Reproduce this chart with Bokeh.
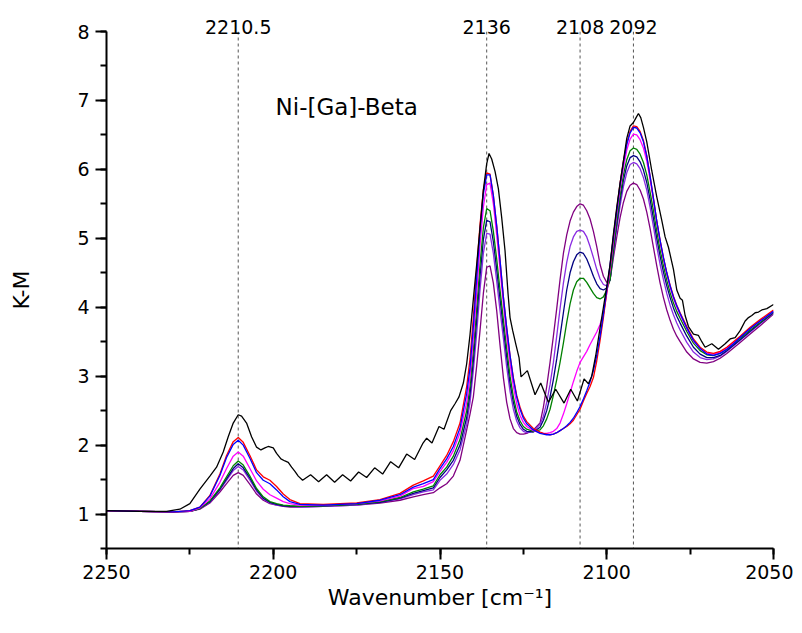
from bokeh.plotting import figure
from bokeh.models import (Range1d, SingleIntervalTicker, Span, Label, ColumnDataSource,
                          LinearAxis, FixedTicker)
from bokeh.embed import file_html
from bokeh.resources import INLINE

# Wavenumber grid for the coloured spectra
wn = [2250, 2240, 2230, 2225, 2222, 2219, 2216, 2214, 2212, 2210.5,
      2209, 2207, 2205, 2203, 2201, 2199, 2197, 2195, 2192, 2185,
      2175, 2168, 2162, 2158, 2155, 2152, 2150, 2148, 2146, 2144,
      2142, 2141, 2140, 2139, 2138, 2137, 2136, 2135, 2134, 2133,
      2132, 2131, 2130, 2129, 2128, 2127, 2126, 2125, 2124, 2122,
      2120, 2119, 2118, 2117, 2116, 2115, 2114, 2113, 2112, 2111,
      2110, 2109, 2108, 2107, 2106, 2105, 2104, 2103, 2102, 2101,
      2100, 2099, 2098, 2097, 2096, 2095, 2094, 2093, 2092, 2091,
      2090, 2089, 2088, 2087, 2086, 2085, 2084, 2083, 2082, 2081,
      2080, 2079, 2078, 2076, 2074, 2072, 2070, 2068, 2066, 2064,
      2062, 2060, 2057, 2054, 2050]

red = [1.05, 1.04, 1.03, 1.05, 1.10, 1.27, 1.58, 1.85, 2.05, 2.11,
       2.04, 1.85, 1.64, 1.54, 1.49, 1.40, 1.29, 1.21, 1.15, 1.14,
       1.16, 1.21, 1.30, 1.42, 1.48, 1.55, 1.70, 1.85, 2.05, 2.32,
       2.85, 3.25, 3.85, 4.55, 5.20, 5.70, 5.95, 5.93, 5.62, 5.18,
       4.68, 4.15, 3.70, 3.30, 2.98, 2.72, 2.55, 2.42, 2.34, 2.24,
       2.19, 2.17, 2.16, 2.15, 2.16, 2.18, 2.21, 2.24, 2.27, 2.31,
       2.36, 2.44, 2.52, 2.64, 2.75, 2.85, 2.98, 3.22, 3.52, 3.85,
       4.22, 4.60, 5.02, 5.42, 5.80, 6.12, 6.38, 6.55, 6.63, 6.62,
       6.55, 6.42, 6.20, 5.90, 5.58, 5.25, 4.97, 4.72, 4.50, 4.32,
       4.16, 4.03, 3.92, 3.72, 3.54, 3.42, 3.35, 3.33, 3.36, 3.42,
       3.50, 3.58, 3.71, 3.82, 3.96]

blue = [1.05, 1.04, 1.03, 1.05, 1.10, 1.26, 1.56, 1.82, 2.01, 2.07,
        2.00, 1.81, 1.60, 1.49, 1.44, 1.35, 1.25, 1.18, 1.14, 1.13,
        1.15, 1.20, 1.28, 1.39, 1.44, 1.50, 1.66, 1.80, 1.98, 2.25,
        2.75, 3.12, 3.72, 4.42, 5.10, 5.64, 5.92, 5.92, 5.62, 5.18,
        4.68, 4.15, 3.70, 3.30, 2.96, 2.70, 2.52, 2.39, 2.31, 2.22,
        2.17, 2.16, 2.15, 2.15, 2.16, 2.18, 2.21, 2.24, 2.28, 2.33,
        2.39, 2.47, 2.56, 2.67, 2.79, 2.92, 3.08, 3.30, 3.58, 3.90,
        4.25, 4.62, 5.02, 5.40, 5.78, 6.10, 6.36, 6.53, 6.61, 6.60,
        6.53, 6.40, 6.19, 5.90, 5.58, 5.25, 4.97, 4.72, 4.50, 4.31,
        4.15, 4.02, 3.91, 3.70, 3.52, 3.40, 3.32, 3.30, 3.33, 3.39,
        3.47, 3.56, 3.69, 3.80, 3.94]

magenta = [1.05, 1.04, 1.03, 1.04, 1.09, 1.22, 1.46, 1.66, 1.84, 1.90,
           1.84, 1.66, 1.48, 1.36, 1.28, 1.23, 1.18, 1.15, 1.13, 1.13,
           1.15, 1.19, 1.26, 1.37, 1.40, 1.47, 1.62, 1.75, 1.92, 2.18,
           2.62, 2.98, 3.55, 4.20, 4.90, 5.45, 5.78, 5.80, 5.50, 5.05,
           4.55, 4.05, 3.58, 3.18, 2.85, 2.60, 2.43, 2.33, 2.27, 2.21,
           2.18, 2.17, 2.17, 2.18, 2.20, 2.24, 2.32, 2.45, 2.60, 2.76,
           2.92, 3.07, 3.20, 3.28, 3.36, 3.46, 3.55, 3.64, 3.75, 3.90,
           4.20, 4.55, 4.95, 5.35, 5.72, 6.02, 6.28, 6.44, 6.51, 6.50,
           6.43, 6.31, 6.12, 5.85, 5.55, 5.23, 4.95, 4.70, 4.48, 4.29,
           4.13, 4.00, 3.89, 3.69, 3.51, 3.40, 3.33, 3.32, 3.35, 3.41,
           3.49, 3.57, 3.69, 3.80, 3.94]

green = [1.05, 1.04, 1.03, 1.04, 1.08, 1.19, 1.38, 1.54, 1.70, 1.77,
         1.71, 1.55, 1.37, 1.25, 1.18, 1.15, 1.13, 1.12, 1.11, 1.12,
         1.14, 1.18, 1.24, 1.32, 1.36, 1.41, 1.57, 1.68, 1.84, 2.08,
         2.50, 2.85, 3.38, 3.98, 4.62, 5.15, 5.43, 5.40, 5.10, 4.70,
         4.25, 3.82, 3.40, 3.00, 2.70, 2.48, 2.35, 2.27, 2.23, 2.20,
         2.22, 2.28, 2.38, 2.52, 2.72, 2.95, 3.20, 3.48, 3.78, 4.05,
         4.25, 4.37, 4.42, 4.42, 4.36, 4.28, 4.20, 4.14, 4.12, 4.15,
         4.25, 4.40, 4.85, 5.25, 5.62, 5.92, 6.14, 6.27, 6.31, 6.29,
         6.22, 6.10, 5.92, 5.67, 5.40, 5.10, 4.83, 4.60, 4.39, 4.21,
         4.06, 3.94, 3.84, 3.65, 3.48, 3.37, 3.31, 3.30, 3.33, 3.39,
         3.47, 3.55, 3.67, 3.78, 3.93]

navy = [1.05, 1.04, 1.03, 1.04, 1.08, 1.18, 1.36, 1.51, 1.66, 1.73,
        1.67, 1.52, 1.35, 1.23, 1.17, 1.14, 1.12, 1.11, 1.11, 1.12,
        1.14, 1.17, 1.23, 1.30, 1.34, 1.38, 1.53, 1.64, 1.78, 2.00,
        2.40, 2.74, 3.22, 3.82, 4.45, 4.98, 5.26, 5.24, 4.95, 4.55,
        4.12, 3.70, 3.28, 2.90, 2.62, 2.42, 2.30, 2.23, 2.20, 2.19,
        2.26, 2.36, 2.50, 2.70, 2.95, 3.25, 3.58, 3.92, 4.25, 4.50,
        4.66, 4.76, 4.80, 4.78, 4.70, 4.58, 4.45, 4.34, 4.27, 4.25,
        4.28, 4.40, 4.82, 5.20, 5.55, 5.84, 6.05, 6.17, 6.20, 6.18,
        6.11, 5.99, 5.81, 5.56, 5.29, 5.00, 4.74, 4.51, 4.31, 4.14,
        3.99, 3.87, 3.77, 3.58, 3.42, 3.32, 3.27, 3.27, 3.30, 3.37,
        3.45, 3.53, 3.65, 3.77, 3.92]

violet = [1.05, 1.04, 1.03, 1.04, 1.08, 1.17, 1.35, 1.49, 1.63, 1.69,
          1.64, 1.49, 1.33, 1.22, 1.16, 1.13, 1.12, 1.11, 1.10, 1.11,
          1.13, 1.17, 1.22, 1.28, 1.32, 1.35, 1.49, 1.58, 1.72, 1.93,
          2.30, 2.62, 3.08, 3.62, 4.25, 4.78, 5.07, 5.06, 4.78, 4.38,
          3.95, 3.55, 3.13, 2.78, 2.52, 2.35, 2.25, 2.20, 2.18, 2.20,
          2.30, 2.42, 2.62, 2.88, 3.20, 3.58, 3.98, 4.35, 4.65, 4.88,
          5.02, 5.10, 5.12, 5.10, 5.02, 4.88, 4.72, 4.55, 4.41, 4.33,
          4.31, 4.40, 4.78, 5.14, 5.47, 5.75, 5.95, 6.07, 6.10, 6.08,
          6.01, 5.88, 5.70, 5.45, 5.17, 4.88, 4.62, 4.40, 4.20, 4.03,
          3.89, 3.77, 3.67, 3.49, 3.35, 3.27, 3.24, 3.25, 3.29, 3.36,
          3.44, 3.52, 3.64, 3.76, 3.92]

purple = [1.05, 1.04, 1.03, 1.04, 1.07, 1.16, 1.32, 1.44, 1.56, 1.60,
          1.56, 1.43, 1.29, 1.20, 1.15, 1.13, 1.11, 1.10, 1.10, 1.11,
          1.13, 1.16, 1.20, 1.25, 1.28, 1.31, 1.38, 1.44, 1.55, 1.78,
          2.22, 2.45, 2.70, 3.15, 3.66, 4.20, 4.58, 4.60, 4.35, 3.95,
          3.45, 2.98, 2.62, 2.38, 2.24, 2.18, 2.16, 2.16, 2.17, 2.22,
          2.32, 2.55, 2.85, 3.20, 3.58, 3.98, 4.40, 4.78, 5.05, 5.25,
          5.38, 5.46, 5.50, 5.48, 5.40, 5.28, 5.10, 4.88, 4.62, 4.45,
          4.36, 4.40, 4.72, 5.02, 5.30, 5.52, 5.68, 5.77, 5.80, 5.78,
          5.70, 5.57, 5.38, 5.14, 4.87, 4.60, 4.35, 4.14, 3.96, 3.81,
          3.68, 3.58, 3.50, 3.35, 3.25, 3.20, 3.19, 3.21, 3.26, 3.33,
          3.41, 3.49, 3.61, 3.73, 3.90]

# Black spectrum (with interference ripples) on its own grid
black_wn = [2250, 2240, 2232, 2228, 2225, 2222, 2219, 2217, 2215, 2213.5,
            2212, 2210.5, 2209.5, 2208, 2206.5, 2205, 2203.7, 2202.5, 2201.5, 2200,
            2199, 2197.7, 2196.5, 2195.5, 2194.5, 2193.5, 2192.5, 2191.2, 2188.8, 2186.4,
            2184.0, 2181.6, 2179.2, 2176.8, 2174.4, 2172.0, 2169.6, 2167.2, 2164.8, 2162.4,
            2160.0, 2157.6, 2155.2, 2154.0, 2152.4, 2150.3, 2148.8, 2146.8, 2145.5, 2144.3,
            2143.0, 2142.0, 2141.0, 2140.0, 2139.0, 2138.0, 2137.0, 2136.0, 2135.3, 2134.5,
            2133.5, 2132.5, 2131.5, 2130.5, 2129.6, 2129.0, 2128.2, 2127.2, 2126.3, 2125.7,
            2123.8, 2121.5, 2119.8, 2117.5, 2115.3, 2112.8, 2110.8, 2108.8, 2106.8, 2105.5,
            2104.5, 2103.3, 2102, 2101, 2100, 2099, 2098, 2097, 2096, 2095,
            2094, 2093, 2092, 2091.2, 2090.5, 2089.8, 2089, 2088, 2086.5, 2085,
            2083.5, 2082.5, 2081.5, 2080, 2079, 2078, 2077.3, 2076.5, 2075.5, 2074,
            2072.5, 2071.5, 2070.5, 2068.5, 2066.5, 2064.5, 2063, 2061.5, 2060, 2058.5,
            2057.5, 2056.5, 2055.5, 2054.5, 2053.5, 2052, 2050]
black = [1.05, 1.04, 1.04, 1.07, 1.15, 1.36, 1.55, 1.68, 1.90, 2.12,
         2.32, 2.44, 2.42, 2.32, 2.12, 1.97, 1.93, 1.96, 1.98, 1.96,
         1.88, 1.80, 1.77, 1.75, 1.68, 1.62, 1.55, 1.49, 1.57, 1.47,
         1.57, 1.46, 1.57, 1.48, 1.61, 1.53, 1.67, 1.58, 1.76, 1.67,
         1.87, 1.79, 2.02, 2.10, 2.03, 2.27, 2.23, 2.50, 2.60, 2.70,
         2.90, 3.18, 3.60, 4.12, 4.62, 5.15, 5.70, 6.08, 6.23, 6.15,
         5.97, 5.72, 5.30, 4.82, 4.20, 3.85, 3.66, 3.45, 3.27, 2.99,
         3.08, 2.73, 2.90, 2.62, 2.81, 2.61, 2.81, 2.64, 2.96, 2.89,
         3.00, 3.30, 3.70, 4.00, 4.30, 4.62, 5.06, 5.45, 5.80, 6.12,
         6.45, 6.63, 6.68, 6.75, 6.81, 6.75, 6.61, 6.40, 5.98, 5.60,
         5.26, 5.02, 4.87, 4.55, 4.25, 4.13, 4.10, 3.88, 3.72, 3.61,
         3.59, 3.50, 3.42, 3.47, 3.39, 3.47, 3.54, 3.56, 3.66, 3.80,
         3.85, 3.88, 3.92, 3.93, 3.96, 3.98, 4.04]

marker_positions = [2210.5, 2136, 2108, 2092]
marker_labels = ["2210.5", "2136", "2108", "2092"]
sample_name = "Ni-[Ga]-Beta"

FONT = "DejaVu Sans"

p = figure(width=793, height=626,
           x_range=Range1d(2250, 2050), y_range=Range1d(0.5, 8),
           output_backend="svg", toolbar_location=None,
           min_border_left=106, min_border_right=20,
           min_border_top=31, min_border_bottom=78)
p.xgrid.visible = False
p.ygrid.visible = False
p.outline_line_color = None
p.background_fill_color = "white"
p.border_fill_color = "white"

p.xaxis.ticker = SingleIntervalTicker(interval=50, num_minor_ticks=2)
p.yaxis.ticker = SingleIntervalTicker(interval=1, num_minor_ticks=2)
for ax in (p.xaxis[0], p.yaxis[0]):
    ax.axis_line_width = 2
    ax.axis_line_color = "black"
    ax.major_tick_line_width = 2
    ax.minor_tick_line_width = 2
    ax.major_tick_in = 0
    ax.major_tick_out = 11
    ax.minor_tick_in = 0
    ax.minor_tick_out = 6
    ax.major_label_text_font = FONT
    ax.major_label_text_font_size = "19px"
    ax.major_label_text_color = "black"
    ax.axis_label_text_font = FONT
    ax.axis_label_text_font_size = "22px"
    ax.axis_label_text_font_style = "normal"
    ax.axis_label_text_color = "black"

p.xaxis.axis_label = "Wavenumber [cm\u207b\u00b9]"
p.yaxis.axis_label = "K-M"
p.xaxis.major_label_standoff = 5
p.xaxis.axis_label_standoff = 3
p.yaxis.major_label_standoff = 6
p.yaxis.axis_label_standoff = 40

# band-position labels drawn as an axis above the frame (no line, no ticks)
top_axis = LinearAxis(ticker=FixedTicker(ticks=marker_positions),
                      major_label_overrides=dict(zip(marker_positions, marker_labels)),
                      axis_line_color=None, major_tick_line_color=None,
                      minor_tick_line_color=None, major_tick_out=0, major_tick_in=0,
                      minor_tick_out=0, minor_tick_in=0,
                      major_label_standoff=-2,
                      major_label_text_font=FONT, major_label_text_font_size="19px",
                      major_label_text_color="black")
p.add_layout(top_axis, "above")

for loc in marker_positions:
    p.add_layout(Span(location=loc, dimension="height", line_color="#555555",
                      line_width=1, line_dash="3 3", level="underlay"))

src = ColumnDataSource(dict(wn=wn, red=red, blue=blue, magenta=magenta, green=green,
                            navy=navy, violet=violet, purple=purple))
series = [("purple", "#800080"), ("violet", "#8A2BE2"), ("navy", "#000080"),
          ("green", "#008000"), ("magenta", "#FF00FF"), ("red", "#FF0000"),
          ("blue", "#0000FF")]
for name, col in series:
    p.line("wn", name, source=src, line_color=col, line_width=1.3)

bsrc = ColumnDataSource(dict(wn=black_wn, k=black))
p.line("wn", "k", source=bsrc, line_color="black", line_width=1.3)

p.add_layout(Label(x=2199.3, y=6.9, text=sample_name, text_align="left",
                   text_baseline="middle", text_font=FONT,
                   text_font_size="23px", text_color="black"))

open("out.html", "w").write(file_html(p, INLINE))
